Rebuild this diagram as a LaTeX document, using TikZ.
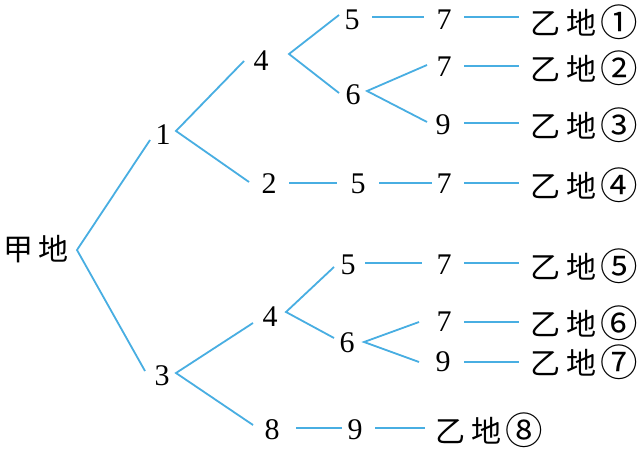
\documentclass[tikz,border=0pt]{standalone}
\usepackage{fontspec}
\newfontfamily\cjk{Noto Sans CJK SC}
\newfontfamily\digf{Liberation Serif}
\definecolor{lblue}{RGB}{72,174,226}
\newcommand{\yi}[1]{乙\hspace{6pt}地\hspace{4pt}\raisebox{-1.5pt}{\scalebox{1.25}{#1}}}
\begin{document}
\begin{tikzpicture}[x=1pt,y=-1pt,
  dig/.style={font=\digf\fontsize{30}{32}\selectfont, inner sep=0pt},
  cjkt/.style={font=\cjk\fontsize{30}{32}\selectfont, inner sep=0pt},
  ln/.style={draw=lblue, line width=1.8pt}]
\useasboundingbox[fill=white] (0,0) rectangle (644,449);
% nodes
\node[cjkt] (jia) at (36,249) {甲\hspace{5pt}地};
\node[dig] (n1) at (163,135) {1};
\node[dig] (n4a) at (261,61) {4};
\node[dig] (n2) at (269,184) {2};
\node[dig] (n5a) at (352,20) {5};
\node[dig] (n7a) at (444,20) {7};
\node[cjkt] (yA) at (584,22) {\yi{①}};
\node[dig] (n6a) at (353,95) {6};
\node[dig] (n7b) at (444,67) {7};
\node[cjkt] (yB) at (584,68) {\yi{②}};
\node[dig] (n9c) at (443,125) {9};
\node[cjkt] (yC) at (584,125) {\yi{③}};
\node[dig] (n5d) at (358,184) {5};
\node[dig] (n7d) at (444,184) {7};
\node[cjkt] (yD) at (584,185) {\yi{④}};
\node[dig] (n3) at (162,376) {3};
\node[dig] (n4e) at (270,317) {4};
\node[dig] (n8) at (272,430) {8};
\node[dig] (n5e) at (348,265) {5};
\node[dig] (n7e) at (444,265) {7};
\node[cjkt] (yE) at (584,266) {\yi{⑤}};
\node[dig] (n6f) at (347,343) {6};
\node[dig] (n7f) at (444,322) {7};
\node[cjkt] (yF) at (584,323) {\yi{⑥}};
\node[dig] (n9g) at (443,362) {9};
\node[cjkt] (yG) at (584,362) {\yi{⑦}};
\node[dig] (n9h) at (355,430) {9};
\node[cjkt] (yH) at (489,430) {\yi{⑧}};
% connector end points
\coordinate (vJ) at (77,250);
\coordinate (e1) at (150,140);
\coordinate (e3) at (145,371);
\coordinate (v1) at (176,131);
\coordinate (e4a) at (244,61);
\coordinate (e2) at (249,182);
\coordinate (v4a) at (289,54);
\coordinate (e5a) at (339,15);
\coordinate (e6a) at (339,93);
\coordinate (v6a) at (367,91);
\coordinate (e7b) at (427,65);
\coordinate (e9c) at (427,122);
\coordinate (v3) at (176,373);
\coordinate (e4e) at (253,323);
\coordinate (e8) at (253,425);
\coordinate (v4e) at (286,312);
\coordinate (e5e) at (334,267);
\coordinate (e6f) at (334,338);
\coordinate (v6f) at (364,342);
\coordinate (e7f) at (419,322);
\coordinate (e9g) at (419,362);
% horizontal segments
\coordinate (hA1) at (372,17);  \coordinate (hA2) at (424,17);
\coordinate (hA3) at (464,17);  \coordinate (hA4) at (519,17);
\coordinate (hB1) at (464,66);  \coordinate (hB2) at (519,66);
\coordinate (hC1) at (464,123); \coordinate (hC2) at (519,123);
\coordinate (hD1) at (289,183); \coordinate (hD2) at (337,183);
\coordinate (hD3) at (379,183); \coordinate (hD4) at (432,183);
\coordinate (hD5) at (464,183); \coordinate (hD6) at (519,183);
\coordinate (hE1) at (365,263); \coordinate (hE2) at (422,263);
\coordinate (hE3) at (464,263); \coordinate (hE4) at (519,263);
\coordinate (hF1) at (464,322); \coordinate (hF2) at (519,322);
\coordinate (hG1) at (464,362); \coordinate (hG2) at (519,362);
\coordinate (hH1) at (296,428); \coordinate (hH2) at (342,428);
\coordinate (hH3) at (375,428); \coordinate (hH4) at (425,428);
% branches
\draw[ln] (e1) -- (vJ) -- (e3);
\draw[ln] (e4a) -- (v1) -- (e2);
\draw[ln] (e5a) -- (v4a) -- (e6a);
\draw[ln] (e7b) -- (v6a) -- (e9c);
\draw[ln] (e4e) -- (v3) -- (e8);
\draw[ln] (e5e) -- (v4e) -- (e6f);
\draw[ln] (e7f) -- (v6f) -- (e9g);
% chains
\draw[ln] (hA1) -- (hA2); \draw[ln] (hA3) -- (hA4);
\draw[ln] (hB1) -- (hB2);
\draw[ln] (hC1) -- (hC2);
\draw[ln] (hD1) -- (hD2); \draw[ln] (hD3) -- (hD4); \draw[ln] (hD5) -- (hD6);
\draw[ln] (hE1) -- (hE2); \draw[ln] (hE3) -- (hE4);
\draw[ln] (hF1) -- (hF2);
\draw[ln] (hG1) -- (hG2);
\draw[ln] (hH1) -- (hH2); \draw[ln] (hH3) -- (hH4);
\end{tikzpicture}
\end{document}
